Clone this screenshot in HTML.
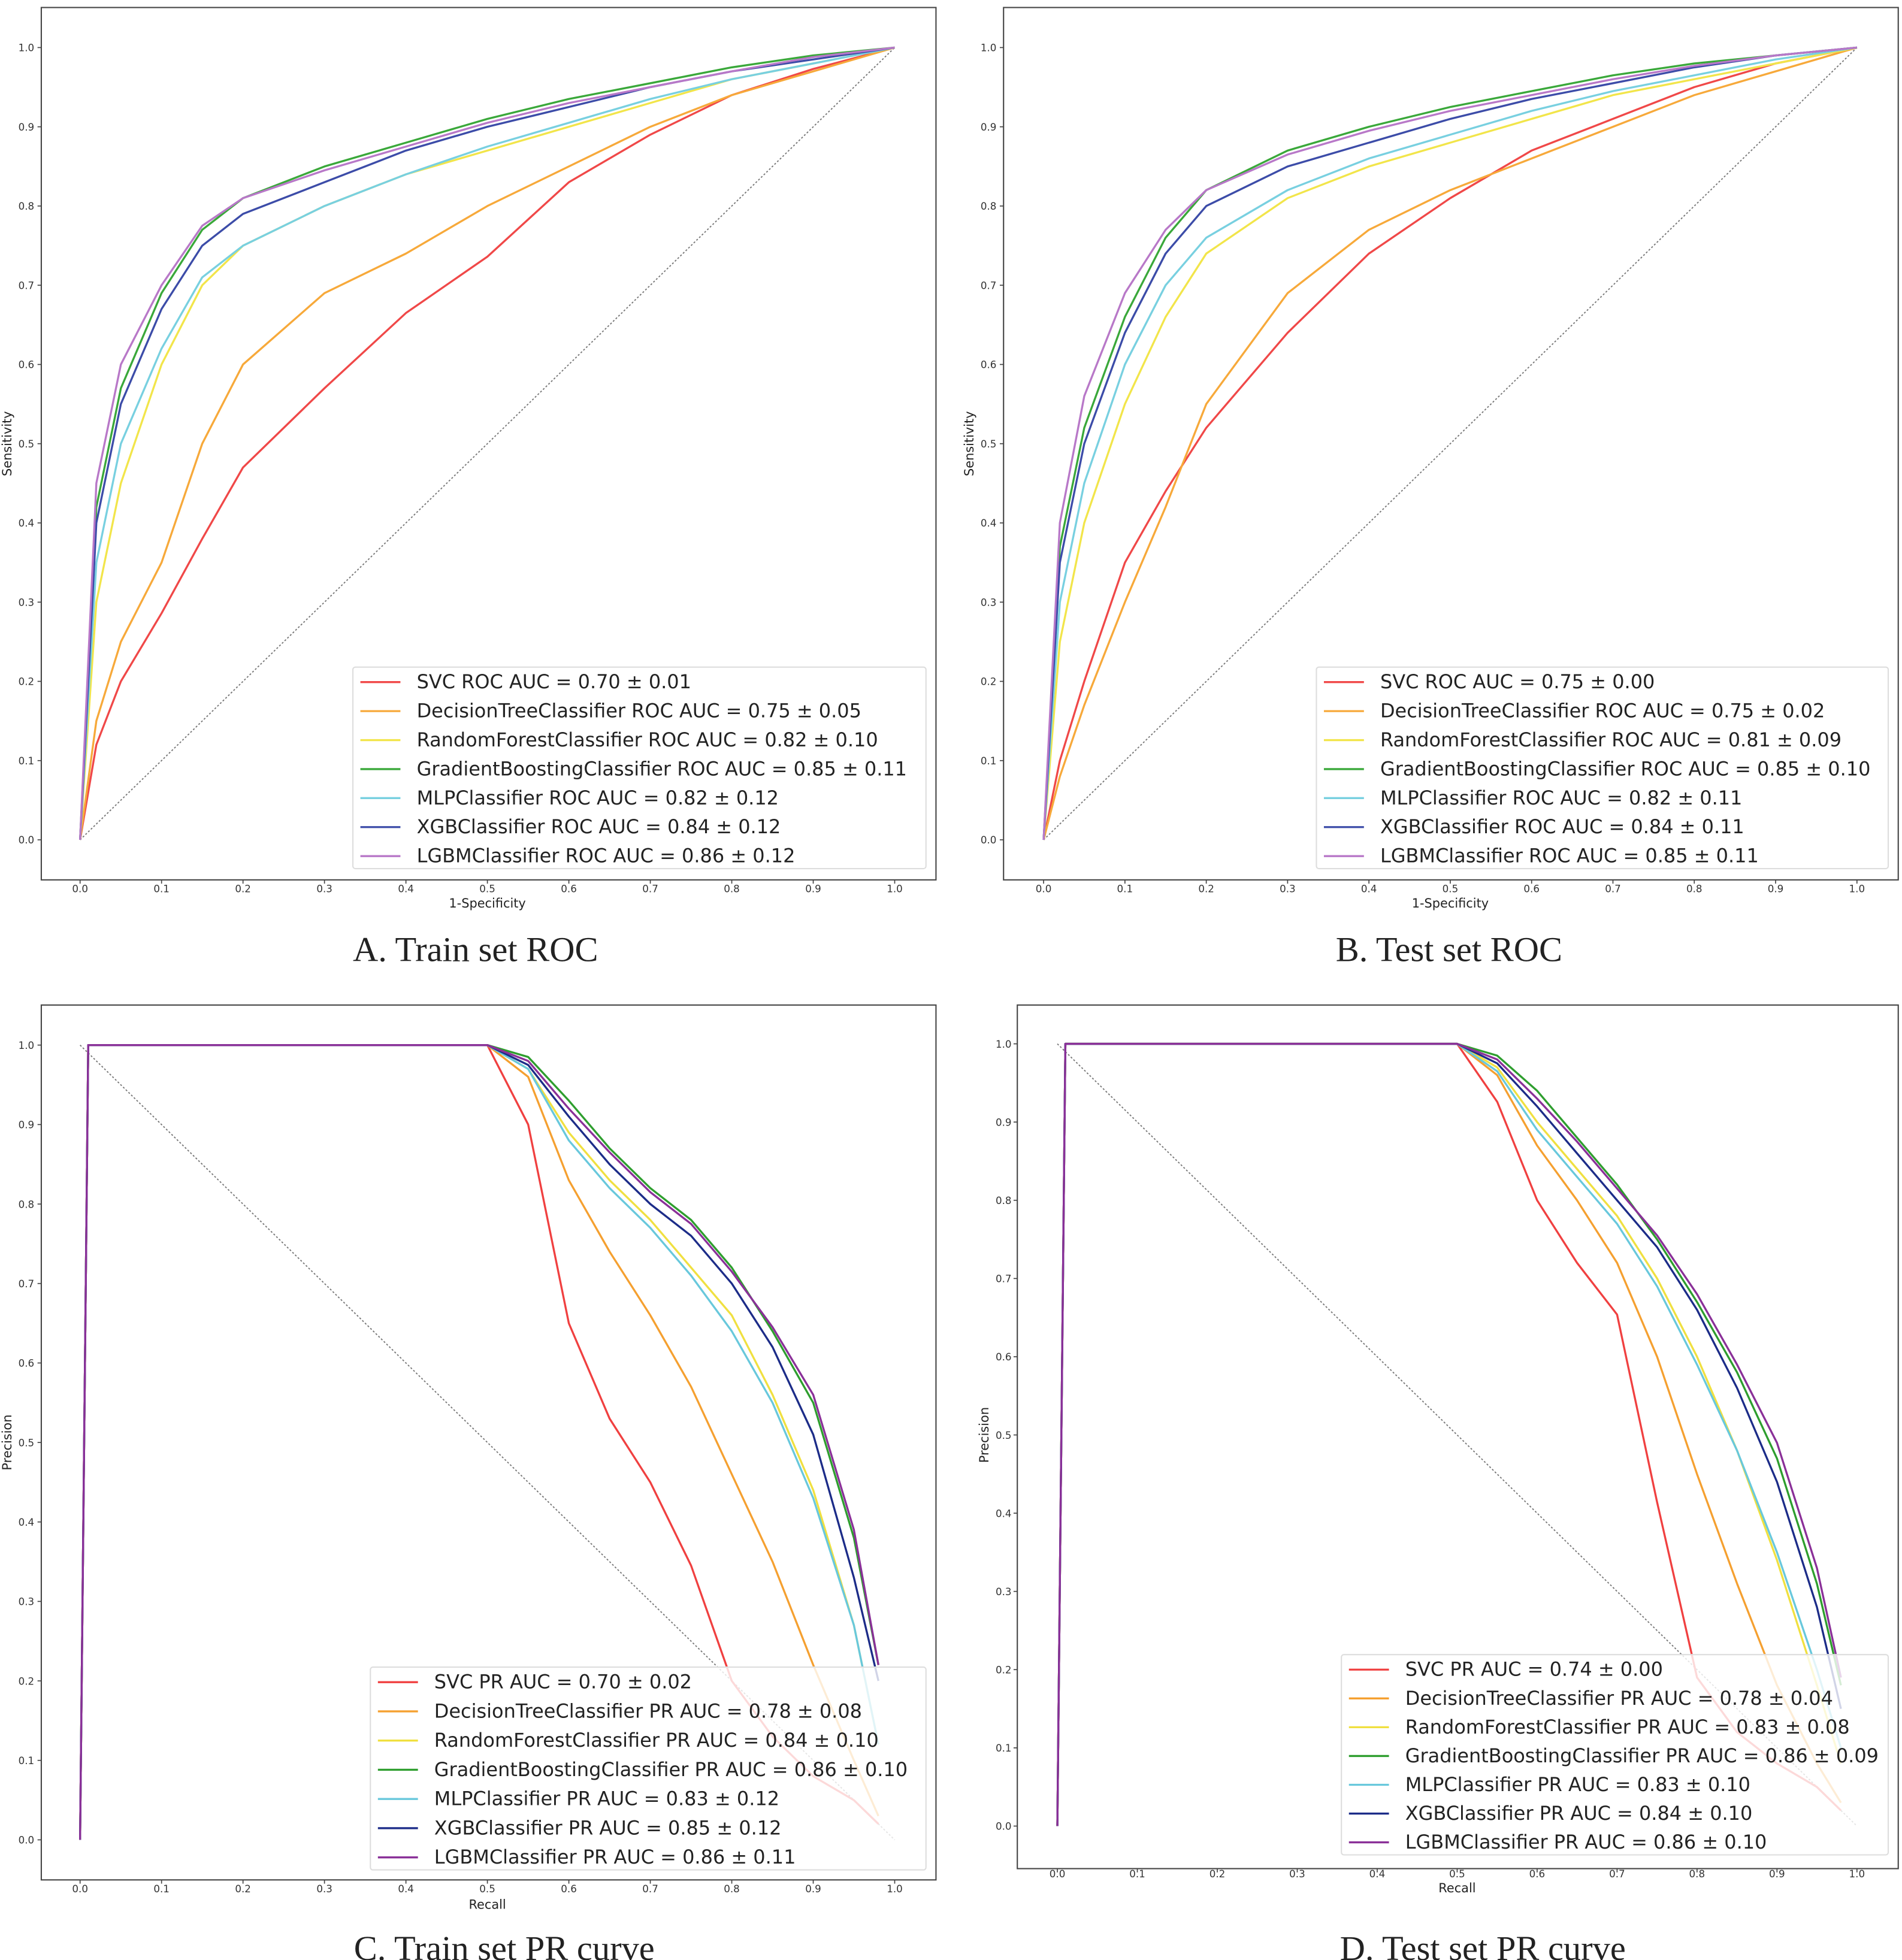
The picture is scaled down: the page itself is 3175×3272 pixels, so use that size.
<!DOCTYPE html>
<html><head><meta charset="utf-8"><style>
html,body{margin:0;padding:0;background:#fff;}
svg{display:block;}
</style></head><body>
<svg id="fig" width="3175" height="3272" viewBox="0 0 1520 1566" preserveAspectRatio="none" xmlns="http://www.w3.org/2000/svg"></svg>
<script>
const seriesNames = ["SVC","DecisionTreeClassifier","RandomForestClassifier","GradientBoostingClassifier","MLPClassifier","XGBClassifier","LGBMClassifier"];
const colorsLight = ["#f04848","#f7a93a","#f2e54a","#3aa83a","#78d0e0","#3c4ca8","#b878c8"];
const colorsDark = ["#f04040","#f5a030","#f0e040","#2e9e2e","#68c8dc","#1c2c88","#8a3098"];
const tickVals = [0,0.1,0.2,0.3,0.4,0.5,0.6,0.7,0.8,0.9,1.0];
const tickLabels = ["0.0","0.1","0.2","0.3","0.4","0.5","0.6","0.7","0.8","0.9","1.0"];

const rocX = [0,0.02,0.05,0.1,0.15,0.2,0.3,0.4,0.5,0.6,0.7,0.8,0.9,1.0];
const rocA_svc  = [0,0.12,0.2,0.286,0.38,0.47,0.57,0.665,0.736,0.83,0.89,0.94,0.973,1];
const rocA_dt   = [0,0.15,0.25,0.35,0.5,0.6,0.69,0.74,0.8,0.85,0.9,0.94,0.97,1];
const rocA_rf   = [0,0.3,0.45,0.6,0.7,0.75,0.8,0.84,0.87,0.9,0.93,0.96,0.98,1];
const rocA_gb   = [0,0.42,0.57,0.69,0.77,0.81,0.85,0.88,0.91,0.935,0.955,0.975,0.99,1];
const rocA_mlp  = [0,0.35,0.5,0.62,0.71,0.75,0.8,0.84,0.875,0.905,0.935,0.96,0.98,1];
const rocA_xgb  = [0,0.4,0.55,0.67,0.75,0.79,0.83,0.87,0.9,0.925,0.95,0.97,0.985,1];
const rocA_lgbm = [0,0.45,0.6,0.7,0.775,0.81,0.845,0.875,0.905,0.93,0.95,0.97,0.988,1];

const rocB_svc  = [0,0.1,0.2,0.35,0.44,0.52,0.64,0.74,0.81,0.87,0.91,0.95,0.98,1];
const rocB_dt   = [0,0.08,0.17,0.3,0.42,0.55,0.69,0.77,0.82,0.86,0.9,0.94,0.97,1];
const rocB_rf   = [0,0.25,0.4,0.55,0.66,0.74,0.81,0.85,0.88,0.91,0.94,0.96,0.98,1];
const rocB_gb   = [0,0.37,0.52,0.66,0.76,0.82,0.87,0.9,0.925,0.945,0.965,0.98,0.99,1];
const rocB_mlp  = [0,0.3,0.45,0.6,0.7,0.76,0.82,0.86,0.89,0.92,0.945,0.965,0.985,1];
const rocB_xgb  = [0,0.35,0.5,0.64,0.74,0.8,0.85,0.88,0.91,0.935,0.955,0.975,0.99,1];
const rocB_lgbm = [0,0.4,0.56,0.69,0.77,0.82,0.865,0.895,0.92,0.94,0.96,0.977,0.99,1];

const prX = [0,0.01,0.5,0.55,0.6,0.65,0.7,0.75,0.8,0.85,0.9,0.95,0.98];
const prC_svc  = [0,1,1,0.9,0.65,0.53,0.45,0.345,0.2,0.13,0.08,0.05,0.02];
const prC_dt   = [0,1,1,0.96,0.83,0.74,0.66,0.57,0.46,0.35,0.22,0.1,0.03];
const prC_rf   = [0,1,1,0.97,0.89,0.83,0.78,0.72,0.66,0.56,0.44,0.27,0.12];
const prC_gb   = [0,1,1,0.985,0.93,0.87,0.82,0.78,0.72,0.64,0.55,0.38,0.22];
const prC_mlp  = [0,1,1,0.97,0.88,0.82,0.77,0.71,0.64,0.55,0.43,0.27,0.12];
const prC_xgb  = [0,1,1,0.975,0.91,0.85,0.8,0.76,0.7,0.62,0.51,0.33,0.2];
const prC_lgbm = [0,1,1,0.98,0.92,0.865,0.815,0.775,0.715,0.645,0.56,0.39,0.22];

const prD_svc  = [0,1,1,0.926,0.8,0.72,0.654,0.414,0.19,0.12,0.08,0.05,0.02];
const prD_dt   = [0,1,1,0.96,0.87,0.8,0.72,0.6,0.45,0.31,0.18,0.08,0.03];
const prD_rf   = [0,1,1,0.97,0.9,0.84,0.78,0.7,0.6,0.48,0.34,0.18,0.08];
const prD_gb   = [0,1,1,0.985,0.94,0.88,0.82,0.75,0.67,0.58,0.47,0.31,0.18];
const prD_mlp  = [0,1,1,0.965,0.89,0.83,0.77,0.69,0.59,0.48,0.35,0.2,0.1];
const prD_xgb  = [0,1,1,0.975,0.92,0.86,0.8,0.74,0.66,0.56,0.44,0.28,0.15];
const prD_lgbm = [0,1,1,0.98,0.93,0.875,0.815,0.755,0.68,0.59,0.49,0.33,0.19];

const aucA = ["0.70 ± 0.01","0.75 ± 0.05","0.82 ± 0.10","0.85 ± 0.11","0.82 ± 0.12","0.84 ± 0.12","0.86 ± 0.12"];
const aucB = ["0.75 ± 0.00","0.75 ± 0.02","0.81 ± 0.09","0.85 ± 0.10","0.82 ± 0.11","0.84 ± 0.11","0.85 ± 0.11"];
const aucC = ["0.70 ± 0.02","0.78 ± 0.08","0.84 ± 0.10","0.86 ± 0.10","0.83 ± 0.12","0.85 ± 0.12","0.86 ± 0.11"];
const aucD = ["0.74 ± 0.00","0.78 ± 0.04","0.83 ± 0.08","0.86 ± 0.09","0.83 ± 0.10","0.84 ± 0.10","0.86 ± 0.10"];

const NS="http://www.w3.org/2000/svg";
const svg=document.getElementById('fig');
function mk(tag,attrs,parent){const e=document.createElementNS(NS,tag);for(const k in attrs)e.setAttribute(k,attrs[k]);(parent||svg).appendChild(e);return e;}

const panels=[
 {id:'a',frame:[33,6,748,703],x0:64,x1:715,y0:671,y1:38,xs:rocX,ys:[rocA_svc,rocA_dt,rocA_rf,rocA_gb,rocA_mlp,rocA_xgb,rocA_lgbm],auc:aucA,kind:'ROC',colors:colorsLight,
  xlab:'1-Specificity',xlabY:725,ylab:'Sensitivity',ylabX:9,tickY:713,tickX:21,legend:[282,533,740,694],title:'A. Train set  ROC',titleX:380,titleY:768,diag:'roc'},
 {id:'b',frame:[802,6,1517,703],x0:834,x1:1484,y0:671,y1:38,xs:rocX,ys:[rocB_svc,rocB_dt,rocB_rf,rocB_gb,rocB_mlp,rocB_xgb,rocB_lgbm],auc:aucB,kind:'ROC',colors:colorsLight,
  xlab:'1-Specificity',xlabY:725,ylab:'Sensitivity',ylabX:778,tickY:713,tickX:790,legend:[1052,533,1509,694],title:'B. Test set  ROC',titleX:1158,titleY:768,diag:'roc'},
 {id:'c',frame:[33,803,748,1502],x0:64,x1:715,y0:1470,y1:835,xs:prX,ys:[prC_svc,prC_dt,prC_rf,prC_gb,prC_mlp,prC_xgb,prC_lgbm],auc:aucC,kind:'PR',colors:colorsDark,
  xlab:'Recall',xlabY:1525,ylab:'Precision',ylabX:9,tickY:1512,tickX:21,legend:[296,1332,740,1494],title:'C. Train set  PR curve',titleX:403,titleY:1566,diag:'pr'},
 {id:'d',frame:[813,803,1517,1493],x0:845,x1:1484,y0:1459,y1:834,xs:prX,ys:[prD_svc,prD_dt,prD_rf,prD_gb,prD_mlp,prD_xgb,prD_lgbm],auc:aucD,kind:'PR',colors:colorsDark,
  xlab:'Recall',xlabY:1512,ylab:'Precision',ylabX:790,tickY:1500,tickX:802,legend:[1072,1322,1509,1482],title:'D. Test set  PR curve',titleX:1185,titleY:1566,diag:'pr'}
];

panels.forEach(p=>{
 const g=mk('g',{});
 
 
 const sx=v=>p.x0+(p.x1-p.x0)*v, sy=v=>p.y0+(p.y1-p.y0)*v;
 const f=p.frame;
 const fr=mk('rect',{x:f[0],y:f[1],width:f[2]-f[0],height:f[3]-f[1],fill:'none',stroke:'#444','stroke-width':1},g);
 
 
 tickVals.forEach((v,i)=>{
  const tx=mk('text',{x:sx(v),y:p.tickY,'font-size':8,'text-anchor':'middle','font-family':'DejaVu Sans, sans-serif',fill:'#333'},g);
  tx.textContent=tickLabels[i];
  
  
  mk('line',{x1:sx(v),x2:sx(v),y1:f[3],y2:f[3]+3,stroke:'#444','stroke-width':0.8},g);
  const ty=mk('text',{x:p.tickX,y:sy(v)+3,'font-size':8,'text-anchor':'middle','font-family':'DejaVu Sans, sans-serif',fill:'#333'},g);
  ty.textContent=tickLabels[i];
  
  
  mk('line',{x1:f[0]-3,x2:f[0],y1:sy(v),y2:sy(v),stroke:'#444','stroke-width':0.8},g);
 });
 const xl=mk('text',{x:(p.x0+p.x1)/2,y:p.xlabY,'font-size':10,'text-anchor':'middle','font-family':'DejaVu Sans, sans-serif',fill:'#222'},g);
 xl.textContent=p.xlab;
 
 
 const yl=mk('text',{x:p.ylabX,y:(p.y0+p.y1)/2,'font-size':10,'text-anchor':'middle','font-family':'DejaVu Sans, sans-serif',fill:'#222',transform:`rotate(-90 ${p.ylabX} ${(p.y0+p.y1)/2})`},g);
 yl.textContent=p.ylab;
 
 
 const d = p.diag==='roc' ? [sx(0),sy(0),sx(1),sy(1)] : [sx(0),sy(1),sx(1),sy(0)];
 const dl=mk('line',{x1:d[0],y1:d[1],x2:d[2],y2:d[3],stroke:'#777','stroke-width':0.9,'stroke-dasharray':'1.5 1.5'},g);
 
 
 p.ys.forEach((ys,si)=>{
  const pts=p.xs.map((x,i)=>sx(x).toFixed(1)+','+sy(ys[i]).toFixed(1)).join(' ');
  const pl=mk('polyline',{points:pts,fill:'none',stroke:p.colors[si],'stroke-width':1.6,'stroke-linejoin':'round'},g);
  
  
 });
 const L=p.legend;
 const lb=mk('rect',{x:L[0],y:L[1],width:L[2]-L[0],height:L[3]-L[1],fill:'#fff','fill-opacity':0.8,stroke:'#ddd','stroke-width':1,rx:2},g);
 
 
 const step=(L[3]-L[1]-22)/6;
 seriesNames.forEach((n,si)=>{
  const y=L[1]+12+step*si;
  const ll=mk('line',{x1:L[0]+6,x2:L[0]+38,y1:y,y2:y,stroke:p.colors[si],'stroke-width':1.6},g);
  
  
  const t=mk('text',{x:L[0]+51,y:y+5,'font-size':15.3,'font-family':'DejaVu Sans, sans-serif',fill:'#222'},g);
  t.textContent=`${n} ${p.kind} AUC = ${p.auc[si]}`;
  
  
 });
 const tt=mk('text',{x:p.titleX,y:p.titleY,'font-size':28,'text-anchor':'middle','font-family':'Liberation Serif, serif',fill:'#222'},g);
 tt.textContent=p.title;
 
 
});
</script>
</body></html>
